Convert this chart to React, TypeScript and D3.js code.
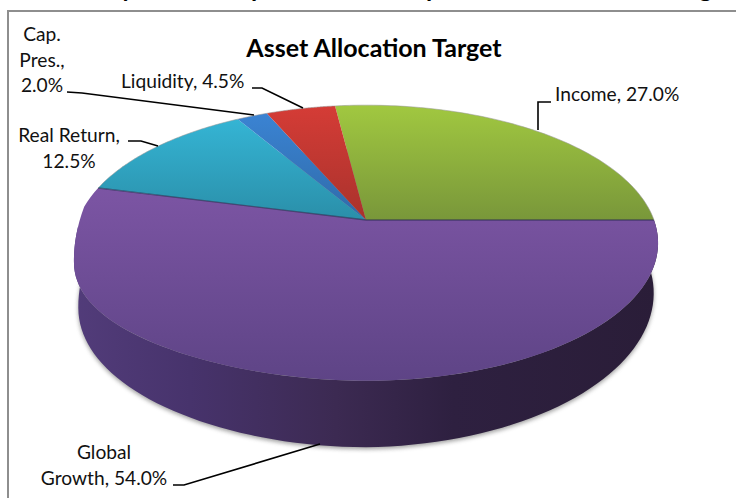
import * as d3 from 'd3';

const categories = ['Income', 'Global Growth', 'Real Return', 'Cap. Pres.', 'Liquidity'];
const shares = [27.0, 54.0, 12.5, 2.0, 4.5];
const topColors = ['#a1c840', '#7c55a4', '#35b6d6', '#3b84d4', '#d53c36'];
const bottomColors = ['#78963a', '#5e4486', '#2a8ea8', '#2f6aa8', '#a8322c'];
const gradientTops = [105, 187, 115, 110, 105];
const gradientBottoms = [222, 381, 222, 222, 222];
const title = 'Asset Allocation Target';

// leader lines run from the label to the pie edge
const labels = [
  { lines: ['Income, 27.0%'], x: 555, y: 101, anchor: 'start', leader: [[551, 102], [538, 102], [538, 130]] },
  { lines: ['Global', 'Growth, 54.0%'], x: 104, y: 459, anchor: 'middle', leader: [[173, 485], [184, 485], [320, 444]] },
  { lines: ['Real Return,', '12.5%'], x: 69, y: 142, anchor: 'middle', leader: [[128, 141], [141, 141], [158, 146]] },
  { lines: ['Cap.', 'Pres.,', '2.0%'], x: 42, y: 41, anchor: 'middle', leader: [[67, 92], [82, 93], [254, 115]] },
  { lines: ['Liquidity, 4.5%'], x: 121, y: 88, anchor: 'start', leader: [[252, 88], [262, 88], [303, 108]] },
];

// bits of the line above the chart, only the descenders are on the page
const croppedHeading = [{ t: 'y', x: 121 }, { t: 'p', x: 251 }, { t: 'p', x: 426 }, { t: 'g', x: 699 }];

const width = 736;
const height = 498;
const font = 'Lato, "Open Sans", sans-serif';

const cx = 366;
const apexY = 220;
const rx = 288;
const ry = 134;
const persp = 1 / 6;

// the lower left of the disc sags a little in the picture
const sag = (u: number, v: number) =>
  Math.pow(Math.max(0, -u), 3) * Math.min(1, Math.max(0, (v + 0.1) / 0.3));

// disc seen in perspective: angle clockwise from the back of the pie
const topPoint = (a: number): [number, number] => {
  const u = Math.sin(a);
  const v = -Math.cos(a);
  const w = 1 - persp * v;
  return [cx + (rx * u) / w, apexY + (ry * v) / w + 20 * sag(u, v)];
};
const bottomPoint = (a: number): [number, number] => {
  const u = Math.sin(a);
  const v = -Math.cos(a);
  const w = 1 - persp * v;
  return [cx + (0.985 * rx * u) / w, 272 + (146 * v) / w + 11 * sag(u, v) - 4 * Math.max(0, u)];
};

const sweep = (a0: number, a1: number, n = 90) =>
  d3.range(n + 1).map(i => a0 + ((a1 - a0) * i) / n);

const line = d3.line();
const startAngle = (-7.2 * Math.PI) / 180;
const arcs = d3.pie<number>().sort(null).startAngle(startAngle).endAngle(startAngle + 2 * Math.PI)(shares);

const slicePath = (a0: number, a1: number) =>
  line([[cx, apexY], ...sweep(a0, a1).map(topPoint)]) + 'Z';

const wallPath =
  line([
    ...sweep(Math.PI / 2, (3 * Math.PI) / 2).map(topPoint),
    ...sweep((3 * Math.PI) / 2, Math.PI / 2).map(bottomPoint),
  ]) + 'Z';
const floorPath = line(sweep(0, 2 * Math.PI, 180).map(bottomPoint)) + 'Z';

export default function App() {
  return (
    <svg
      width={width}
      height={height}
      viewBox={`0 0 ${width} ${height}`}
      style={{ position: 'absolute', left: 0, top: 0, background: '#fff' }}
      fontFamily={font}
    >
      <defs>
        {categories.map((c, i) => (
          <linearGradient
            key={c}
            id={`slice${i}`}
            gradientUnits="userSpaceOnUse"
            x1={0}
            x2={0}
            y1={gradientTops[i]}
            y2={gradientBottoms[i]}
          >
            <stop offset="0" stopColor={topColors[i]} />
            <stop offset="1" stopColor={bottomColors[i]} />
          </linearGradient>
        ))}
        <linearGradient id="wall" gradientUnits="userSpaceOnUse" x1={73} x2={658} y1={0} y2={0}>
          <stop offset="0" stopColor="#523c7a" />
          <stop offset="0.2" stopColor="#47336c" />
          <stop offset="0.45" stopColor="#3c2a52" />
          <stop offset="0.65" stopColor="#2e2040" />
          <stop offset="1" stopColor="#2a1d38" />
        </linearGradient>
        <filter id="soft" x="-5%" y="-5%" width="110%" height="110%">
          <feGaussianBlur stdDeviation="2" />
        </filter>
      </defs>

      {/* frame, open on the right */}
      <path d={`M8,${height}V11H${width}`} fill="none" stroke="#8e8e8e" strokeWidth={2} />

      {croppedHeading.map((h, i) => (
        <text key={i} x={h.x} y={-3} fontSize={25} fontWeight={700} fill="#000">
          {h.t}
        </text>
      ))}

      <text x={374} y={56.5} textAnchor="middle" fontSize={25} fontWeight={700} fill="#000">
        {title}
      </text>

      <path d={floorPath} fill="#777" opacity={0.7} filter="url(#soft)" transform="translate(0,2)" />
      <path d={wallPath} fill="url(#wall)" />

      {arcs.map((d, i) => (
        <path key={categories[i]} d={slicePath(d.startAngle, d.endAngle)} fill={`url(#slice${i})`} />
      ))}
      {/* dark seam along the big slice and pale rim on the back */}
      <path
        d={line([topPoint(arcs[1].startAngle), [cx, apexY], topPoint(arcs[1].endAngle)]) as string}
        fill="none"
        stroke="#2a2a50"
        strokeOpacity={0.6}
        strokeWidth={1.3}
      />
      <path
        d={line(sweep(arcs[1].endAngle, arcs[1].startAngle + 2 * Math.PI).map(topPoint)) as string}
        fill="none"
        stroke="#999"
        strokeOpacity={0.55}
        strokeWidth={1}
      />

      {labels.map((l, i) => (
        <g key={i}>
          <path d={line(l.leader as [number, number][]) as string} fill="none" stroke="#000" strokeWidth={1.6} />
          {l.lines.map((t, j) => (
            <text key={j} x={l.x} y={l.y + j * 25.7} textAnchor={l.anchor as any} fontSize={19.2} fill="#111">
              {t}
            </text>
          ))}
        </g>
      ))}
    </svg>
  );
}
